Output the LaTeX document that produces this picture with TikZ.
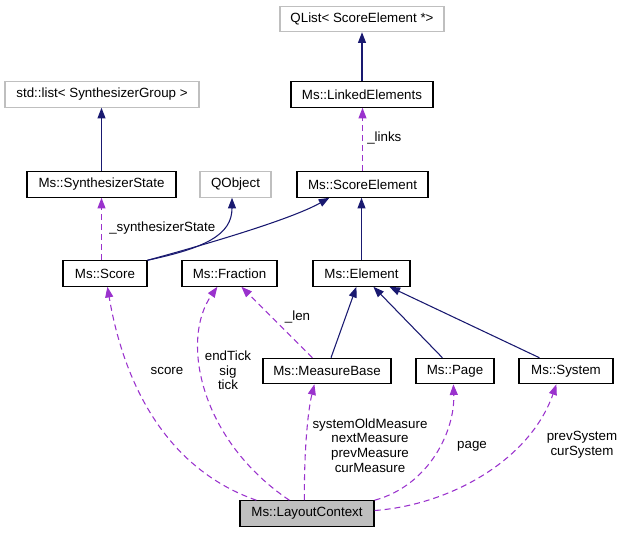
\documentclass[tikz,border=0pt]{standalone}
\usepackage{fontspec}
\setmainfont{Liberation Sans}
\usetikzlibrary{arrows.meta,calc}
\definecolor{inhcol}{HTML}{191970}
\definecolor{usecol}{HTML}{9A32CD}
\definecolor{extgray}{HTML}{BFBFBF}
\begin{document}
\begin{tikzpicture}[x=0.75pt,y=-0.75pt,
  font=\fontsize{10}{11}\selectfont,
  cls/.style={draw=black, line width=0.9pt, minimum height=19pt, inner sep=0pt},
  ext/.style={cls, draw=extgray},
  wd/.style={minimum width=#1*0.75pt},
  inh/.style={draw=inhcol, line width=0.8pt, -{Triangle[length=8pt,width=6pt]}},
  use/.style={draw=usecol, line width=0.8pt, dash pattern=on 4.5pt off 3pt, -{Triangle[length=8pt,width=6pt]}},
  lbl/.style={inner sep=0pt, align=center}]
\useasboundingbox (0,0) rectangle (623,532);
% nodes
\node[ext, wd=164] (qlist) at (362,19) {QList< ScoreElement *>};
\node[ext, wd=194] (stdlist) at (102,94.5) {std::list< SynthesizerGroup >};
\node[cls, wd=142] (linked) at (362,94.5) {Ms::LinkedElements};
\node[cls, wd=149] (synth) at (101.5,184.5) {Ms::SynthesizerState};
\node[ext, wd=71] (qobject) at (235.5,184.5) {QObject};
\node[cls, wd=131] (scoreel) at (362.5,184.5) {Ms::ScoreElement};
\node[cls, wd=84] (score) at (105,273.5) {Ms::Score};
\node[cls, wd=95] (fraction) at (229.5,273.5) {Ms::Fraction};
\node[cls, wd=97] (element) at (361.5,273.5) {Ms::Element};
\node[cls, wd=128] (mbase) at (327,371) {Ms::MeasureBase};
\node[cls, wd=78] (page) at (455,371) {Ms::Page};
\node[cls, wd=94] (system) at (566,371) {Ms::System};
\node[cls, wd=134, fill=extgray] (layout) at (307,513.5) {Ms::LayoutContext};
% inheritance
\draw[inh] (linked.north) -- (qlist.south);
\draw[inh] (synth.north) -- (synth.north |- stdlist.south);
\draw[inh] (element.north) -- (element.north |- scoreel.south);
\draw[inh] (score.north east) .. controls (205,248) and (232,235) .. ($(qobject.south)+(-3.5,0)$);
\draw[inh] (score.north east) .. controls (200,246) and (290,220) .. ($(scoreel.south west)+(33,0)$);
\draw[inh] ($(mbase.north)+(4,0)$) -- ($(element.south west)+(44,0)$);
\draw[inh] ($(page.north west)+(27,0)$) -- ($(element.south west)+(61,0)$);
\draw[inh] ($(system.north west)+(21,0)$) -- ($(element.south west)+(77,0)$);
% usage
\draw[use] (scoreel.north) -- (scoreel.north |- linked.south);
\draw[use] (synth.south |- score.north) -- (synth.south);
\draw[use] ($(mbase.north west)+(50,0)$) -- ($(fraction.south west)+(60,0)$);
\draw[use] ($(layout.north west)+(17,0)$) .. controls (170,470) and (125,390) .. ($(score.south west)+(45,0)$);
\draw[use] ($(layout.north west)+(50,0)$) .. controls (200,440) and (180,340) .. ($(fraction.south west)+(36,0)$);
\draw[use] ($(layout.north west)+(65,0)$) .. controls (304,450) and (308,410) .. ($(mbase.south west)+(52,0)$);
\draw[use] (layout.north east) .. controls (430,485) and (455,430) .. ($(page.south west)+(38,0)$);
\draw[use] ($(layout.east)+(0,-3)$) .. controls (450,505) and (530,460) .. ($(system.south west)+(38,0)$);
% labels
\node[lbl, anchor=west] (llinks) at (367,138) {\_links};
\node[lbl, anchor=west] (lsynth) at (109,228) {\_synthesizerState};
\node[lbl] (llen) at (297.5,317) {\_len};
\node[lbl] (lscore) at (167,371) {score};
\node[lbl] (lfrac) at (228,370.5) {endTick\\sig\\tick};
\node[lbl] (lmeas) at (370,445.5) {systemOldMeasure\\nextMeasure\\prevMeasure\\curMeasure};
\node[lbl] (lpage) at (472,446) {page};
\node[lbl] (lsys) at (582,445) {prevSystem\\curSystem};
\end{tikzpicture}
\end{document}
